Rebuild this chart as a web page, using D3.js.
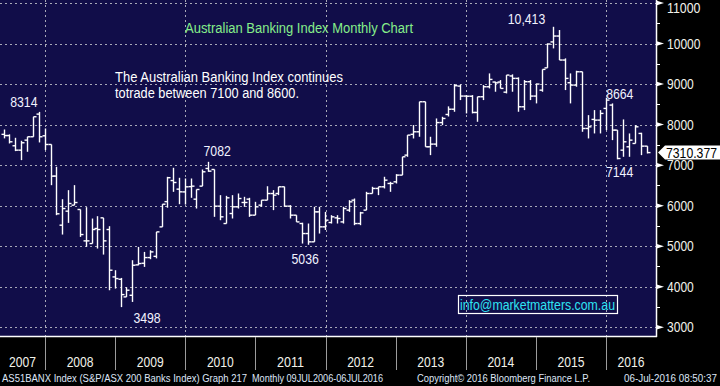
<!DOCTYPE html>
<html lang="en">
<head>
<meta charset="UTF-8">
<title>Australian Banking Index Monthly Chart</title>
<script src="https://d3js.org/d3.v7.min.js"></script>
<style>
    body { margin: 0; background: #000; }
    svg text { font-family: "Liberation Sans", Arial, sans-serif; }
</style>
</head>
<body>
<div id="chart"></div>
<script>
    // Monthly OHLC bars, May 2007 - Jul 2016 (one value per month)
    var firstMonth = "2007-05";

    var openVals = [
        7760, 7730, 7478, 7370, 7617, 7700, 8259, 7724,
        7510, 6730, 5519, 5865, 6013, 5906, 5132, 5066, 5437, 5700, 5412, 4243,
        4185, 3750, 3790, 4540, 4580, 4720, 4750, 5477, 6100, 6620, 6408, 6340,
        6470, 6161, 6482, 6918, 6893, 5988, 5560, 5807, 5972, 6079, 6161, 5766,
        6013, 6136, 6300, 6301, 6466, 5988, 5766, 5560, 5313, 5108, 5848, 5478,
        5585, 5700, 5600, 5890, 6136, 5560, 5890, 6301, 6425, 6466, 6548, 6589,
        6754, 7247, 7760, 7823, 8564, 7453, 7519, 8050, 8250, 8380, 8950, 8704,
        8700, 8300, 8687, 8934, 9050, 9050, 8800, 9200, 9140, 8440, 9058, 8704,
        8850, 9400, 10040, 10185, 9593, 9033, 8975, 9304, 7905, 8128, 8111, 8399,
        8482, 7864, 7370, 7453, 7535, 7782, 7469
    ];
    var highVals = [
        7880, 7760, 7675, 7601, 7700, 8194, 8314, 7905,
        7510, 6960, 6160, 6383, 6507, 5906, 5963, 5683, 5741, 5700, 5494, 4408,
        4218, 3988, 4655, 4983, 4860, 4900, 5354, 6037, 6712, 6935, 6688, 6671,
        6671, 6400, 6893, 7082, 6893, 6260, 6243, 6260, 6301, 6219, 6194, 6095,
        6136, 6480, 6383, 6466, 6470, 6013, 5766, 5580, 5560, 5972, 5972, 5848,
        5766, 5766, 5972, 6136, 6177, 5848, 6342, 6466, 6466, 6713, 6589, 6778,
        7206, 7741, 7988, 8564, 8564, 7700, 8152, 8193, 8450, 9000, 8990, 8728,
        8728, 8687, 8975, 9263, 9058, 9099, 9222, 9240, 9165, 9099, 9099, 9016,
        9362, 10004, 10413, 10333, 9634, 9263, 9329, 9304, 8234, 8358, 8358, 8664,
        8523, 7864, 8128, 7782, 7988, 7799, 7469
    ];
    var lowVals = [
        7660, 7535, 7346, 7124, 7330, 7700, 7560, 7370,
        6506, 5766, 5288, 5576, 6013, 5230, 4984, 5066, 4943, 4794, 3914, 3955,
        3498, 3749, 3626, 4531, 4490, 4680, 4700, 5477, 5950, 6342, 6037, 6029,
        6194, 5930, 6482, 6836, 5725, 5642, 5560, 5684, 5930, 5972, 5725, 5766,
        5972, 6136, 5890, 6260, 5972, 5684, 5600, 5066, 5036, 5108, 5313, 5400,
        5560, 5560, 5560, 5848, 5519, 5519, 5890, 6301, 6260, 6425, 6342, 6548,
        6754, 7206, 7658, 7700, 7453, 7247, 7453, 7988, 8200, 8317, 8605, 8276,
        8276, 8070, 8605, 8893, 8811, 8893, 8770, 8811, 8317, 8358, 8605, 8523,
        8811, 9400, 9880, 9593, 8852, 8523, 8934, 7823, 7659, 7782, 7782, 7864,
        7617, 7144, 7206, 7206, 7535, 7247, 7288
    ];
    var closeVals = [
        7730, 7576, 7370, 7552, 7700, 8194, 7700, 7510,
        6729, 5800, 5930, 6054, 6078, 5288, 5132, 5412, 5412, 5132, 4408, 4202,
        3807, 3915, 4531, 4573, 4720, 4860, 5354, 6037, 6690, 6572, 6342, 6465,
        6482, 6400, 6836, 6852, 5988, 5725, 6194, 5972, 6177, 6079, 5766, 5972,
        6136, 6300, 6260, 6466, 5988, 5766, 5600, 5313, 5108, 5848, 5478, 5643,
        5725, 5684, 5930, 6095, 5560, 5823, 6301, 6425, 6466, 6630, 6548, 6754,
        7206, 7741, 7823, 8564, 7453, 7519, 8050, 8152, 8380, 8960, 8704, 8700,
        8300, 8687, 8934, 9115, 9030, 8893, 9222, 9140, 8440, 9058, 8704, 9000,
        9362, 9988, 10185, 9593, 9140, 8975, 9304, 7905, 7946, 8111, 8276, 8605,
        7864, 7164, 7576, 7617, 7946, 7469, 7310
    ];

    var yTicks = [3000, 4000, 5000, 6000, 7000, 8000, 9000, 10000, 11000];
    var yMinorTicks = [3500, 4500, 5500, 6500, 7500, 8500, 9500, 10500];
    var years = [2007, 2008, 2009, 2010, 2011, 2012, 2013, 2014, 2015, 2016];
    var gridYears = [2008, 2010, 2012, 2014, 2016];

    // high / low call-outs
    var calloutText = ["8314", "7082", "3498", "5036", "10,413", "8664", "7144"];
    var calloutMonth = ["2007-11", "2010-04", "2009-01", "2011-09", "2015-03", "2015-12", "2016-02"];
    var calloutValue = [8314, 7082, 3498, 5036, 10413, 8664, 7144];

    var lastPrice = "7310.377";
    var titleText = "Australian Banking Index Monthly Chart";
    var noteLines = ["The Australian Banking Index continues", "totrade between 7100 and 8600."];
    var emailText = "info@marketmatters.com.au";
    var footerLeft = "AS51BANX Index (S&P/ASX 200 Banks Index) Graph 217";
    var footerMid = "Monthly 09JUL2006-06JUL2016";
    var footerCopy = "Copyright\u00a9 2016 Bloomberg Finance L.P.";
    var footerDate = "06-Jul-2016 08:50:37";

    // layout
    var W = 720, H = 386;
    var plotR = 656, plotB = 336;
    var digitW = 6.7;
    var calloutOffset = [[-15, -5], [9, -6], [26, 15.5], [-2.5, 19.5], [-26.5, -3], [14, 1], [2.3, 17.6]];

    // squeeze a text to the width it has in the Bloomberg screenshot
    function fit(sel, w) {
        return sel.attr("textLength", w).attr("lengthAdjust", "spacingAndGlyphs");
    }
    function numWidth(s) {
        return s.replace(/[,.]/g, "").length * digitW + (s.length - s.replace(/[,.]/g, "").length) * 3.5;
    }

    var parseMonth = d3.timeParse("%Y-%m");
    var start = parseMonth(firstMonth);
    function monthEnd(m) { return new Date(m.getFullYear(), m.getMonth() + 1, 0); }

    var bars = openVals.map(function(o, i) {
        var m = d3.timeMonth.offset(start, i);
        return {date: monthEnd(m), o: o, h: highVals[i], l: lowVals[i], c: closeVals[i]};
    });

    var x = d3.scaleTime()
        .domain([new Date(2008, 0, 1), new Date(2016, 0, 1)])
        .range([45, 606]);
    var y = d3.scaleLinear()
        .domain([3000, 11000])
        .range([327.3, 3]);

    var svg = d3.select("#chart").append("svg")
        .attr("width", W).attr("height", H);

    svg.append("rect").attr("width", W).attr("height", H).attr("fill", "#000");
    svg.append("rect").attr("width", plotR).attr("height", plotB).attr("fill", "#110d49");

    // grid
    svg.append("g").selectAll("line").data(yTicks).join("line")
        .attr("x1", 0).attr("x2", plotR)
        .attr("y1", function(d) { return Math.round(y(d)) + 0.5; })
        .attr("y2", function(d) { return Math.round(y(d)) + 0.5; })
        .attr("stroke", "#a8a8b8").attr("stroke-dasharray", "2,3");
    svg.append("g").selectAll("line").data(gridYears).join("line")
        .attr("x1", function(d) { return Math.round(x(new Date(d, 0, 1))) + 0.5; })
        .attr("x2", function(d) { return Math.round(x(new Date(d, 0, 1))) + 0.5; })
        .attr("y1", 0).attr("y2", plotB)
        .attr("stroke", "#a8a8b8").attr("stroke-dasharray", "2,3");

    // OHLC bars
    var bar = svg.append("g").attr("stroke", "#fff").attr("stroke-width", 1.4)
        .selectAll("g").data(bars).join("g")
        .attr("transform", function(d) { return "translate(" + (Math.round(x(d.date)) + 0.5) + ",0)"; });
    bar.append("line")
        .attr("y1", function(d) { return y(d.h); })
        .attr("y2", function(d) { return y(d.l); });
    bar.append("line")
        .attr("x1", -3).attr("x2", 0)
        .attr("y1", function(d) { return y(d.o); })
        .attr("y2", function(d) { return y(d.o); });
    bar.append("line")
        .attr("x1", 0).attr("x2", 3)
        .attr("y1", function(d) { return y(d.c); })
        .attr("y2", function(d) { return y(d.c); });

    // plot border (right + bottom)
    svg.append("line").attr("x1", plotR + 0.5).attr("x2", plotR + 0.5).attr("y1", 0).attr("y2", plotB + 1)
        .attr("stroke", "#fff").attr("stroke-width", 1.5);
    svg.append("line").attr("x1", 0).attr("x2", plotR + 1).attr("y1", plotB + 0.5).attr("y2", plotB + 0.5)
        .attr("stroke", "#fff").attr("stroke-width", 1.5);

    // right axis
    var yAxis = d3.axisRight(y).tickValues(yTicks).tickSize(0).tickPadding(11)
        .tickFormat(d3.format("d"));
    var ag = svg.append("g").attr("transform", "translate(" + plotR + ",0)").call(yAxis);
    ag.select(".domain").remove();
    ag.selectAll(".tick")
        .attr("transform", function(d) { return "translate(0," + Math.max(y(d), 8.3) + ")"; });
    ag.selectAll("text").attr("fill", "#f2f2ea").attr("font-size", 14).attr("dy", "0.36em")
        .each(function(d) { fit(d3.select(this), numWidth(String(d))); });
    svg.append("g").selectAll("path").data(yTicks).join("path")
        .attr("d", function(d) { var t = y(d); return "M" + plotR + "," + (t - 2.5) + "L" + (plotR + 8) + "," + t + "L" + plotR + "," + (t + 2.5) + "Z"; })
        .attr("fill", "#fff");
    svg.append("g").selectAll("line").data(yMinorTicks).join("line")
        .attr("x1", plotR).attr("x2", plotR + 4)
        .attr("y1", function(d) { return Math.round(y(d)) + 0.5; })
        .attr("y2", function(d) { return Math.round(y(d)) + 0.5; })
        .attr("stroke", "#fff");

    // last price tag
    var lp = y(+lastPrice);
    svg.append("path")
        .attr("d", "M" + 658 + "," + lp + "L" + 665 + "," + (lp - 7) + "L" + 720 + "," + (lp - 7) +
            "L" + 720 + "," + (lp + 7) + "L" + 665 + "," + (lp + 7) + "Z")
        .attr("fill", "#fff");
    fit(svg.append("text").attr("x", 666).attr("y", lp + 5).text(lastPrice)
        .attr("fill", "#000").attr("font-size", 14), 51);

    // year axis
    svg.append("g").selectAll("line").data(years.slice(1)).join("line")
        .attr("x1", function(d) { return Math.round(x(new Date(d, 0, 1))) + 0.5; })
        .attr("x2", function(d) { return Math.round(x(new Date(d, 0, 1))) + 0.5; })
        .attr("y1", plotB + 1).attr("y2", 370)
        .attr("stroke", "#9c9c9c");
    fit(svg.append("g").selectAll("text").data(years).join("text")
        .attr("x", function(d) {
            var a = Math.max(0, x(new Date(d, 0, 1))), b = Math.min(plotR, x(new Date(d + 1, 0, 1)));
            return (a + b) / 2;
        })
        .attr("y", 367).attr("text-anchor", "middle")
        .attr("fill", "#f2f2ea").attr("font-size", 14)
        .text(function(d) { return d; }), 27);

    // footer
    var foot = svg.append("g").attr("font-size", 10).attr("fill", "#dfe6f7");
    fit(foot.append("text").attr("x", 2).attr("y", 382).text(footerLeft), 245);
    fit(foot.append("text").attr("x", 252).attr("y", 382).text(footerMid), 131);
    fit(foot.append("text").attr("x", 417).attr("y", 382).text(footerCopy), 173);
    fit(foot.append("text").attr("x", 624).attr("y", 382).text(footerDate), 93);

    // title and comment
    fit(svg.append("text").attr("x", 185).attr("y", 33).text(titleText)
        .attr("fill", "#86ee8a").attr("font-size", 14), 228);
    var noteW = [228, 184];
    svg.append("g").selectAll("text").data(noteLines).join("text")
        .attr("x", 115).attr("y", function(d, i) { return 82 + i * 16; })
        .attr("fill", "#fff").attr("font-size", 14)
        .text(function(d) { return d; })
        .each(function(d, i) { fit(d3.select(this), noteW[i]); });

    // call-outs
    svg.append("g").selectAll("text").data(calloutText).join("text")
        .attr("x", function(d, i) { return x(monthEnd(parseMonth(calloutMonth[i]))) + calloutOffset[i][0]; })
        .attr("y", function(d, i) { return y(calloutValue[i]) + calloutOffset[i][1]; })
        .attr("text-anchor", "middle")
        .attr("fill", "#f2f2ff").attr("font-size", 14)
        .text(function(d) { return d; })
        .each(function(d) { fit(d3.select(this), numWidth(d) + 0.5); });

    // email box
    svg.append("rect").attr("x", 458.5).attr("y", 295.5).attr("width", 159).attr("height", 18)
        .attr("fill", "none").attr("stroke", "#fff").attr("stroke-width", 1.2);
    fit(svg.append("text").attr("x", 460).attr("y", 309.5).text(emailText)
        .attr("fill", "#2fe3f2").attr("font-size", 14), 155);
</script>
</body>
</html>
